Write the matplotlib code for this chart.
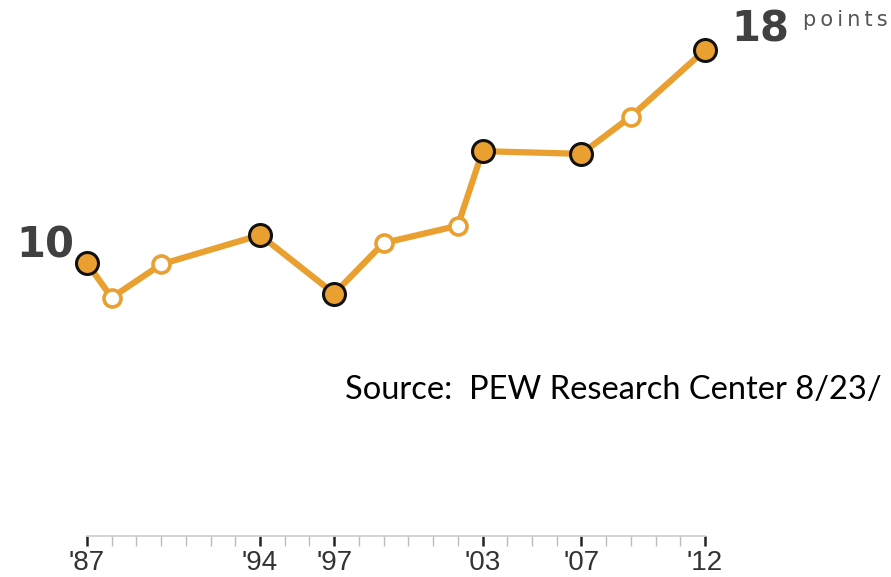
import matplotlib.pyplot as plt
import numpy as np

years = [1987, 1988, 1990, 1994, 1997, 1999, 2002, 2003, 2007, 2009, 2012]
gap = [10.0, 8.7, 9.95, 11.05, 8.85, 10.75, 11.4, 14.2, 14.1, 15.5, 18.0]
filled = [True, False, False, True, True, False, False, True, True, False, True]
tick_years = [1987, 1994, 1997, 2003, 2007, 2012]
tick_labels = ["'87", "'94", "'97", "'03", "'07", "'12"]

orange = '#E9A030'
W, H = 891, 577

fig = plt.figure(figsize=(8.91, 5.77), dpi=100)
ax = fig.add_axes([0, 0, 1, 1])

# pixel-calibrated limits
xpp = 618 / 25.0
ypp = 213 / 8.0
x0 = 1987 - 87 / xpp
y0 = 10 - 314 / ypp
ax.set_xlim(x0, x0 + W / xpp)
ax.set_ylim(y0, y0 + H / ypp)

ax.plot(years, gap, color=orange, lw=4.5, solid_capstyle='round', zorder=1)
yf = [y for y, f in zip(years, filled) if f]
gf = [g for g, f in zip(gap, filled) if f]
yh = [y for y, f in zip(years, filled) if not f]
gh = [g for g, f in zip(gap, filled) if not f]
ax.scatter(yf, gf, s=250, color=orange, edgecolor='#111111', linewidth=2.2, zorder=3)
ax.scatter(yh, gh, s=150, color='white', edgecolor=orange, linewidth=2.6, zorder=3)

def px(x, y):
    return x / W, 1 - y / H

fig.text(*px(74, 257), '10', ha='right', va='baseline', fontsize=30,
         fontweight='bold', color='#404040')
fig.text(*px(731, 42), '18', ha='left', va='baseline', fontsize=30,
         fontweight='bold', color='#404040')
fig.text(*px(803, 26), '\u2009'.join('points'), ha='left', va='baseline', fontsize=15,
         color='#555555')

# timeline axis
for sp in ['top', 'left', 'right']:
    ax.spines[sp].set_visible(False)
axis_y = y0 + (H - 536) / ypp
ax.spines['bottom'].set_position(('data', axis_y))
ax.spines['bottom'].set_bounds(1987, 2012)
ax.spines['bottom'].set_color('#cccccc')
ax.spines['bottom'].set_linewidth(1.2)
ax.set_yticks([])
ax.set_xticks(tick_years)
ax.set_xticklabels(tick_labels, fontsize=20, color='#333333', fontfamily='Liberation Sans')
ax.set_xticks(np.arange(1987, 2013), minor=True)
ax.tick_params(axis='x', which='major', length=7, width=1.8, color='#222222', pad=3)
ax.tick_params(axis='x', which='minor', length=7, width=1, color='#bbbbbb')

fig.text(*px(345, 399), 'Source:  PEW Research Center 8/23/',
         ha='left', va='baseline', fontsize=23.5, color='black', fontfamily='Lato')

fig.savefig('out.png', dpi=100)
